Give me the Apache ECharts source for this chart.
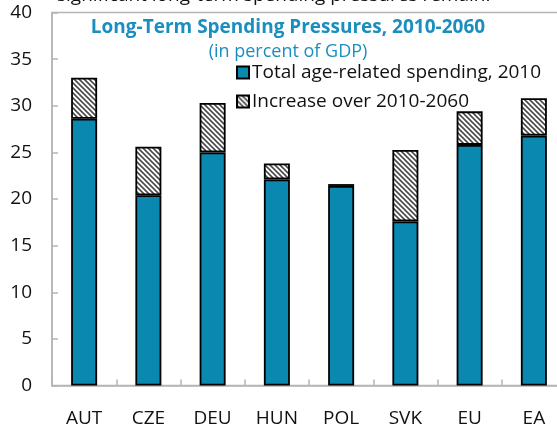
<!DOCTYPE html>
<html>
<head>
<meta charset="utf-8">
<script src="https://cdn.jsdelivr.net/npm/echarts@6/dist/echarts.min.js"></script>
<style>
  html, body { margin: 0; padding: 0; background: #fff; }
  #chart { width: 557px; height: 425px; }
</style>
</head>
<body>
<div id="chart"></div>
<script>
// Age-related public spending, percent of GDP
const categories = ['AUT', 'CZE', 'DEU', 'HUN', 'POL', 'SVK', 'EU', 'EA'];
const spending2010 = [28.6, 20.4, 25.0, 22.1, 21.4, 17.6, 25.8, 26.8];
const increase2010to2060 = [4.4, 5.2, 5.3, 1.7, 0.2, 7.65, 3.6, 4.0];
const yTicks = { min: 0, max: 40, interval: 5 };

const FONT = '"Open Sans", "Noto Sans", sans-serif';
const BLUE = '#0a88b0';
const TITLE_BLUE = '#1a8fbf';
const AXIS_GREY = '#b5b5b5';

// Diagonal hatch tile for the "increase" segments
function hatchPattern() {
  const s = 5;
  const c = document.createElement('canvas');
  c.width = s; c.height = s;
  const g = c.getContext('2d');
  g.fillStyle = '#ffffff';
  g.fillRect(0, 0, s, s);
  g.strokeStyle = '#4a4a4a';
  g.lineWidth = 1.6;
  g.beginPath();
  g.moveTo(-1, -1); g.lineTo(s + 1, s + 1);
  g.moveTo(-1, s - 1); g.lineTo(1, s + 1);
  g.moveTo(s - 1, -1); g.lineTo(s + 1, 1);
  g.stroke();
  return { image: c, repeat: 'repeat' };
}

const chart = echarts.init(document.getElementById('chart'), null, { renderer: 'canvas' });

chart.setOption({
  animation: false,
  backgroundColor: '#ffffff',
  grid: {
    left: 52, right: -9, top: 12.5, bottom: 39.5,
    outerBoundsMode: 'none',
    containLabel: false,
    show: true, borderColor: AXIS_GREY, borderWidth: 1.5, backgroundColor: 'transparent'
  },
  graphic: [
    {
      type: 'text', left: 57, top: -14, silent: true,
      style: { text: 'significant long-term spending pressures remain.', fill: '#111', font: '19px ' + FONT }
    },
    {
      type: 'text', x: 288, y: 28, silent: true,
      style: { text: 'Long-Term Spending Pressures, 2010-2060', fill: TITLE_BLUE,
               font: 'bold 19px ' + FONT, align: 'center', verticalAlign: 'middle' }
    },
    {
      type: 'text', x: 288, y: 52, silent: true,
      style: { text: '(in percent of GDP)', fill: TITLE_BLUE,
               font: '18px ' + FONT, align: 'center', verticalAlign: 'middle' }
    }
  ],
  legend: {
    orient: 'vertical',
    left: 231, top: 57,
    itemWidth: 12, itemHeight: 12, itemGap: 8,
    icon: 'rect',
    selectedMode: false,
    textStyle: { color: '#111', fontFamily: FONT, fontSize: 19, lineHeight: 21, padding: [0, 0, 0, -2] },
    data: ['Total age-related spending, 2010', 'Increase over 2010-2060']
  },
  xAxis: {
    type: 'category',
    data: categories,
    boundaryGap: true,
    axisLine: { lineStyle: { color: AXIS_GREY, width: 1.5 } },
    axisTick: { show: true, inside: true, length: 6, lineStyle: { color: AXIS_GREY, width: 1.5 } },
    axisLabel: { color: '#111', fontFamily: FONT, fontSize: 19, margin: 24 },
    z: 1
  },
  yAxis: {
    type: 'value',
    min: yTicks.min, max: yTicks.max, interval: yTicks.interval,
    splitLine: { show: false },
    axisLine: { show: true, lineStyle: { color: AXIS_GREY, width: 1.5 } },
    axisTick: { show: true, inside: true, length: 6, lineStyle: { color: AXIS_GREY, width: 1.5 } },
    axisLabel: { color: '#111', fontFamily: FONT, fontSize: 19, margin: 20 }
  },
  series: [
    {
      name: 'Total age-related spending, 2010',
      type: 'bar', stack: 'total', barWidth: 26,
      itemStyle: { color: BLUE, borderColor: '#000', borderWidth: 1.8 },
      data: spending2010,
      z: 3
    },
    {
      name: 'Increase over 2010-2060',
      type: 'bar', stack: 'total', barWidth: 26,
      itemStyle: { color: hatchPattern(), borderColor: '#000', borderWidth: 1.8 },
      data: increase2010to2060,
      z: 3
    }
  ]
});
</script>
</body>
</html>
